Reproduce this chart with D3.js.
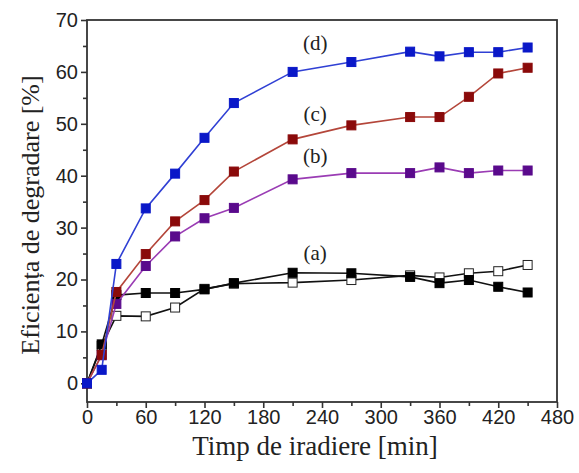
<!DOCTYPE html>
<html><head><meta charset="utf-8">
<script src="https://cdn.jsdelivr.net/npm/d3@7"></script>
<style>body{margin:0;background:#fff}svg{display:block}</style>
</head><body>
<svg id="c" width="579" height="473"></svg>
<script>
const times = [0,15,30,60,90,120,150,210,270,330,360,390,420,450];
const seriesD = [0,2.6,23.0,33.7,40.4,47.3,54.0,60.0,61.9,63.9,63.0,63.8,63.8,64.7];
const seriesC = [0,5.5,17.6,24.9,31.2,35.3,40.8,47.0,49.7,51.3,51.3,55.2,59.7,60.8];
const seriesB = [0,5.4,15.3,22.6,28.3,31.8,33.8,39.3,40.5,40.5,41.6,40.5,41.0,41.0];
const seriesAFilled = [0,7.5,17.0,17.4,17.4,18.1,19.3,21.3,21.2,20.5,19.3,19.9,18.6,17.5];
const seriesAOpen = [0,7.2,13.0,12.9,14.6,18.2,19.2,19.4,19.9,20.8,20.4,21.2,21.6,22.8];
const xTicks = [0,60,120,180,240,300,360,420,480];
const yTicks = [0,10,20,30,40,50,60,70];
const labels = [
  {text:"(d)", t:233, v:64.2},
  {text:"(c)", t:233, v:50.6},
  {text:"(b)", t:233, v:42.5},
  {text:"(a)", t:233, v:23.8}
];

const svg = d3.select("#c");
const m = {l:87, r:22, t:20, b:71};
const W = 579, H = 473;
const x = d3.scaleLinear().domain([0,480]).range([m.l, W-m.r]);
const y = d3.scaleLinear().domain([-3.6,70]).range([H-m.b, m.t]);

const xAxis = d3.axisBottom(x).tickValues(xTicks).tickSize(6).tickPadding(2);
const xMinor = d3.axisBottom(x).tickValues(d3.range(30,480,60)).tickSize(4).tickFormat("");
const yAxis = d3.axisLeft(y).tickValues(yTicks).tickSize(6).tickPadding(3);
const yMinor = d3.axisLeft(y).tickValues(d3.range(5,70,10)).tickSize(4).tickFormat("");

function style(g){
  g.select(".domain").remove();
  g.selectAll("line").attr("stroke","#333").attr("stroke-width",1.6);
  g.selectAll("text").attr("font-family","'Liberation Sans', Arial, sans-serif").attr("font-size",20).attr("fill","#222");
}
svg.append("g").attr("transform",`translate(0,${H-m.b})`).call(xAxis).call(style);
svg.append("g").attr("transform",`translate(0,${H-m.b})`).call(xMinor).call(style);
svg.append("g").attr("transform",`translate(${m.l},0)`).call(yAxis).call(style);
svg.append("g").attr("transform",`translate(${m.l},0)`).call(yMinor).call(style);

svg.append("rect").attr("x",m.l).attr("y",m.t).attr("width",W-m.l-m.r).attr("height",H-m.t-m.b)
  .attr("fill","none").attr("stroke","#333").attr("stroke-width",1.8);

const line = d3.line().x(d=>x(d[0])).y(d=>y(d[1]));
function series(vals, lineColor, fill, stroke){
  const pts = times.map((t,i)=>[t,vals[i]]);
  svg.append("path").datum(pts).attr("d",line).attr("fill","none").attr("stroke",lineColor).attr("stroke-width",1.6);
  svg.append("g").selectAll("rect").data(pts).join("rect")
    .attr("x",d=>x(d[0])-4.5).attr("y",d=>y(d[1])-4.5).attr("width",9).attr("height",9)
    .attr("fill",fill).attr("stroke",stroke).attr("stroke-width",1);
}
series(seriesAOpen, "#111", "#fff", "#222");
series(seriesAFilled, "#111", "#000", "#000");
series(seriesB, "#9a3cb4", "#5a0a8c", "#5a0a8c");
series(seriesC, "#b4463a", "#8a0a0a", "#8a0a0a");
series(seriesD, "#3040d4", "#0a18c8", "#0a18c8");

svg.append("g").selectAll("text").data(labels).join("text")
  .attr("x",d=>x(d.t)).attr("y",d=>y(d.v)).attr("text-anchor","middle")
  .attr("font-family","'Liberation Serif', 'Times New Roman', serif").attr("font-size",21).attr("fill","#222")
  .text(d=>d.text);

svg.append("text").attr("x",315).attr("y",455).attr("text-anchor","middle")
  .attr("font-family","'Liberation Serif', 'Times New Roman', serif").attr("font-size",27).attr("fill","#222")
  .text("Timp de iradiere [min]");
svg.append("text").attr("transform",`translate(39,${(m.t+H-m.b)/2+4}) rotate(-90)`).attr("text-anchor","middle")
  .attr("font-family","'Liberation Serif', 'Times New Roman', serif").attr("font-size",26).attr("fill","#222")
  .text("Eficiența de degradare [%]");
</script>
</body></html>
